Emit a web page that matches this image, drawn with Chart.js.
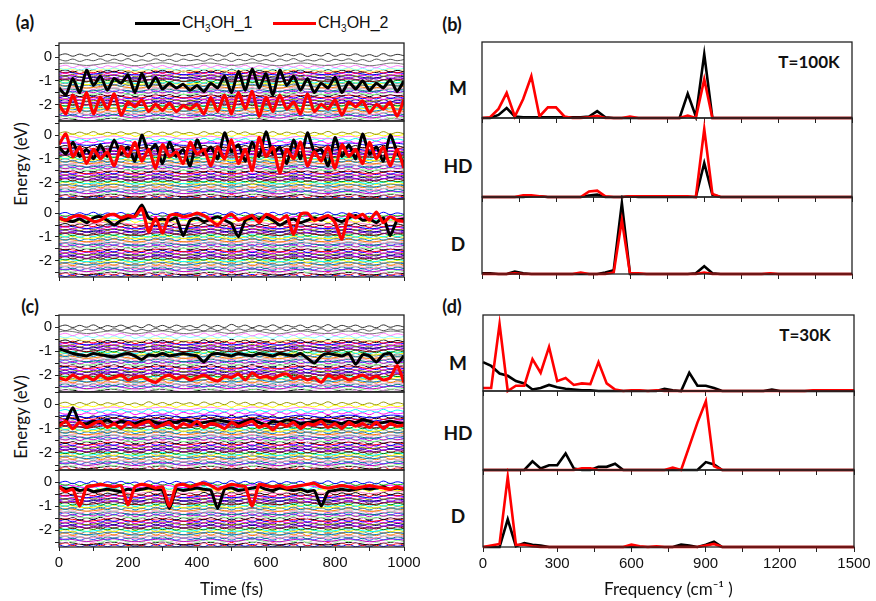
<!DOCTYPE html>
<html>
<head>
<meta charset="utf-8">
<script src="https://cdn.jsdelivr.net/npm/chart.js@4.4.0/dist/chart.umd.min.js"></script>
<style>
body{margin:0;background:#fff;width:876px;height:601px;position:relative;overflow:hidden}
canvas{position:absolute}
.txt{position:absolute;white-space:nowrap;transform:translate(-50%,-50%);color:#111}
.bold{font:bold 18px Lato,"Open Sans",sans-serif}
.leg{position:absolute;white-space:nowrap;font:16px "Liberation Sans",Arial,sans-serif;color:#111}
.leg sub{font-size:10px;vertical-align:-4px}
.swatch{position:absolute;height:3px}
</style>
</head>
<body>

<div class="txt bold" style="left:25px;top:22px">(a)</div>
<div class="txt bold" style="left:452px;top:24px">(b)</div>
<div class="txt bold" style="left:30px;top:306px">(c)</div>
<div class="txt bold" style="left:452px;top:306px">(d)</div>

<div class="swatch" style="left:135px;top:22px;width:45px;background:#000"></div>
<div class="leg" style="left:182px;top:14px">CH<sub>3</sub>OH_1</div>
<div class="swatch" style="left:273px;top:22px;width:43px;background:#ff0000"></div>
<div class="leg" style="left:318px;top:14px">CH<sub>3</sub>OH_2</div>

<div class="txt" style="left:20px;top:164px;font:17px Lato,sans-serif;transform:translate(-50%,-50%) rotate(-90deg)">Energy (eV)</div>
<div class="txt" style="left:20px;top:417px;font:17px Lato,sans-serif;transform:translate(-50%,-50%) rotate(-90deg)">Energy (eV)</div>

<div class="txt bold" style="left:458px;top:87px;font-size:19px">M</div>
<div class="txt bold" style="left:458px;top:165px;font-size:19px">HD</div>
<div class="txt bold" style="left:458px;top:243px;font-size:19px">D</div>
<div class="txt bold" style="left:458px;top:362px;font-size:19px">M</div>
<div class="txt bold" style="left:458px;top:432px;font-size:19px">HD</div>
<div class="txt bold" style="left:458px;top:515px;font-size:19px">D</div>
<div class="txt bold" style="left:809px;top:61px;font-size:17px">T=100K</div>
<div class="txt bold" style="left:805px;top:334px;font-size:17px">T=30K</div>

<script>
// time axis (fs) and FFT frequency grid (cm-1)
const timeFs = [
  0, 20, 40, 60, 80, 100, 120, 140, 160, 180,
  200, 220, 240, 260, 280, 300, 320, 340, 360, 380,
  400, 420, 440, 460, 480, 500, 520, 540, 560, 580,
  600, 620, 640, 660, 680, 700, 720, 740, 760, 780,
  800, 820, 840, 860, 880, 900, 920, 940, 960, 980,
  1000
];
const freqCm = [
  0, 33, 67, 100, 133, 167, 200, 233, 267, 300,
  334, 367, 400, 434, 467, 500, 534, 567, 600, 634,
  667, 701, 734, 767, 801, 834, 867, 901, 934, 967,
  1001, 1034, 1067, 1101, 1134, 1168, 1201, 1234, 1268, 1301,
  1334, 1368, 1401, 1434, 1468, 1501
];

// small thermal wobble of the other Kohn-Sham levels
const wobbleA = [
  0, 0.06, -0.04, 0.05, -0.03, 0.07, -0.05, 0.04, -0.02, 0.06,
  -0.04, 0.03, -0.05, 0.08, -0.03, 0.05, -0.04, 0.06, -0.02, 0.04,
  -0.05, 0.07, -0.03, 0.05, -0.04, 0.09, -0.02, 0.06, -0.05, 0.04,
  -0.03, 0.07, -0.04, 0.05, -0.02, 0.06, -0.05, 0.04, -0.03, 0.08,
  -0.04, 0.05, -0.02, 0.06, -0.04, 0.03, -0.05, 0.07, -0.03, 0.04,
  -0.02
];
const wobbleB = [
  0.04, -0.03, 0.05, -0.05, 0.03, -0.02, 0.06, -0.04, 0.05, -0.03,
  0.07, -0.05, 0.02, -0.04, 0.06, -0.03, 0.04, -0.05, 0.05, -0.02,
  0.03, -0.04, 0.06, -0.03, 0.05, -0.05, 0.04, -0.02, 0.06, -0.04,
  0.03, -0.05, 0.05, -0.03, 0.07, -0.04, 0.02, -0.03, 0.05, -0.05,
  0.04, -0.02, 0.06, -0.04, 0.03, -0.05, 0.05, -0.03, 0.04, -0.02,
  0.03
];
const wobbleC = [
  0.02, 0.05, 0.03, -0.02, -0.05, -0.03, 0.01, 0.05, 0.06, 0.02,
  -0.03, -0.06, -0.04, 0.01, 0.04, 0.06, 0.03, -0.02, -0.05, -0.04,
  0, 0.04, 0.05, 0.02, -0.03, -0.05, -0.03, 0.02, 0.06, 0.04,
  -0.01, -0.05, -0.06, -0.02, 0.03, 0.05, 0.04, -0.01, -0.04, -0.05,
  -0.02, 0.03, 0.05, 0.03, -0.02, -0.06, -0.04, 0.01, 0.05, 0.04,
  0
];
const wobbles = [wobbleA, wobbleB, wobbleC];

// band of occupied levels below the upper ones (eV)
const denseLevels = [
  -0.5, -0.55, -0.6, -0.64, -0.69, -0.74, -0.78, -0.83, -0.88, -0.92,
  -0.97, -1.02, -1.06, -1.11, -1.16, -1.2, -1.25, -1.3, -1.34, -1.39,
  -1.44, -1.48, -1.53, -1.58, -1.62, -1.67, -1.72, -1.76, -1.81, -1.86,
  -1.9, -1.95, -2.0, -2.04, -2.09, -2.14, -2.18, -2.23, -2.28, -2.32,
  -2.37, -2.42, -2.46, -2.51, -2.56, -2.6, -2.65
];

// upper levels per configuration (M, HD, D)
const topLevelsM100 = [0.08, -0.13, -0.3, -0.4];
const topLevelsHD100 = [0.08, 0.0, -0.1, -0.2, -0.3, -0.38];
const topLevelsD100 = [-0.03, -0.1, -0.18, -0.26, -0.34, -0.42];
const topLevelsM30 = [0.02, -0.12, -0.22, -0.32, -0.42, -0.52];
const topLevelsHD30 = [0.02, -0.08, -0.18, -0.28, -0.38];
const topLevelsD30 = [-0.03, -0.1, -0.18, -0.26, -0.34, -0.42];

const topColorsM = ['#333333', '#555555', '#777777', '#ff80ff', '#80ffff', '#ffff80'];
const topColorsHD = ['#999900', '#ffff00', '#ff80ff', '#00ffff', '#ff00ff', '#0000ff'];
const topColorsD = ['#0000ff', '#00c000', '#ff00ff', '#00ffff', '#ffff00', '#ff80c0'];
const palette = ['#000000', '#ff0000', '#0000ff', '#ff00ff', '#808000', '#000080', '#8000ff',
  '#800080', '#800000', '#008000', '#00ffff', '#ffff00', '#808080', '#0080c0', '#ff8000',
  '#c0c0c0', '#ff80c0', '#008080', '#4040ff', '#c000c0', '#80ff80', '#ffc0ff'];

// T = 100 K, methanol levels (eV)
const ch3oh1M100 = [
  -1.3, -1.6, -0.9, -1.5, -0.55, -1.2, -0.8, -1.4, -0.9, -1.1,
  -0.75, -1.5, -0.7, -1.3, -0.85, -1.35, -1.1, -1.3, -1.15, -1.4,
  -1.2, -1.45, -1.1, -1.3, -0.8, -1.5, -0.6, -1.4, -0.5, -1.3,
  -0.7, -1.6, -0.55, -1.2, -0.8, -1.4, -0.9, -1.5, -1.1, -1.3,
  -0.85, -1.5, -1.05, -1.35, -1.0, -1.4, -1.1, -1.3, -0.95, -1.45,
  -1.0
];
const ch3oh2M100 = [
  -2.0, -2.4, -1.6, -2.3, -1.5, -2.4, -1.7, -2.2, -1.55, -2.45,
  -1.9, -2.1, -1.8, -2.3, -2.0, -2.25, -1.95, -2.3, -2.05, -2.2,
  -2.0, -2.4, -1.7, -2.3, -1.6, -2.4, -1.5, -2.2, -1.45, -2.5,
  -1.7, -2.3, -1.6, -2.2, -1.9, -2.4, -1.55, -2.3, -2.0, -2.2,
  -1.8, -2.45, -1.9, -2.1, -1.85, -2.35, -2.0, -2.2, -1.9, -2.5,
  -1.8
];
const ch3oh1HD100 = [
  -0.5, -0.8, -0.3, -0.9, -0.6, -1.0, -0.4, -0.9, -0.2, -0.8,
  -0.5, -1.1, 0.0, -0.7, -0.4, -1.2, -0.3, -0.9, -0.6, -1.3,
  -0.2, -0.8, -0.5, -1.0, 0.1, -0.7, -0.4, -1.1, -0.3, -0.9,
  0.15, -0.8, -0.5, -1.2, -0.2, -1.0, 0.1, -0.7, -0.6, -1.3,
  -0.1, -0.9, -0.4, -1.0, 0.05, -0.8, -0.5, -1.1, 0.0, -0.7,
  -1.2
];
const ch3oh2HD100 = [
  -0.4, 0.05, -0.9, -0.5, -1.2, -0.6, -1.0, -0.7, -1.3, -0.5,
  -0.9, -0.3, -1.1, -0.6, -1.4, -0.4, -0.9, -0.7, -1.2, -0.3,
  -0.8, -0.6, -1.3, -0.5, -1.0, -0.2, -1.2, -0.6, -1.5, -0.1,
  -0.9, -0.5, -1.6, -0.6, -1.0, -0.3, -1.3, -0.7, -1.1, -0.5,
  -1.4, -0.4, -0.9, -0.6, -1.2, -0.3, -1.0, -0.5, -1.3, -0.6,
  -1.4
];
const ch3oh1D100 = [
  -0.2, -0.3, -0.35, -0.25, -0.4, -0.2, -0.15, -0.3, -0.5, -0.3,
  -0.2, -0.1, 0.35, -0.2, -0.3, -0.25, -0.3, -0.2, -0.95, -0.3,
  -0.2, -0.35, -0.25, -0.15, -0.3, -0.45, -1.0, -0.3, -0.2, -0.25,
  -0.15, -0.3, -0.5, -0.35, -0.25, -0.4, -0.3, -0.2, -0.3, -0.15,
  -0.25, -0.35, -0.2, -0.1, -0.3, -0.25, -0.4, -0.2, -0.95, -0.3,
  -0.25
];
const ch3oh2D100 = [
  -0.2, -0.3, -0.15, -0.1, -0.2, -0.35, -0.3, -0.1, -0.05, -0.2,
  -0.1, -0.15, 0.2, -0.8, -0.2, -0.85, -0.1, -0.05, -0.15, -0.1,
  0.0, -0.1, -0.3, -0.5, -0.2, -0.05, -0.3, -0.2, -0.1, -0.4,
  -0.05, -0.15, -0.3, -0.1, -0.9, -0.05, 0.0, -0.3, -0.2, -0.1,
  -0.4, -1.1, -0.05, -0.2, -0.05, -0.3, 0.05, -0.4, -0.15, -0.3,
  -0.35
];

// T = 30 K
const ch3oh1M30 = [
  -0.9, -1.0, -1.1, -1.15, -1.2, -1.1, -1.15, -1.2, -1.25, -1.15,
  -1.1, -1.2, -1.35, -1.15, -1.2, -1.1, -1.2, -1.15, -1.1, -1.15,
  -1.2, -1.45, -1.15, -1.1, -1.15, -1.2, -1.1, -1.15, -1.2, -1.1,
  -1.15, -1.2, -1.1, -1.15, -1.2, -1.1, -1.3, -1.5, -1.2, -1.1,
  -1.15, -1.2, -1.1, -1.55, -1.15, -1.2, -1.45, -1.15, -1.1, -1.5,
  -1.2
];
const ch3oh2M30 = [
  -2.1, -2.2, -2.0, -2.15, -2.05, -2.2, -2.0, -2.15, -2.1, -2.0,
  -2.2, -2.1, -2.05, -2.2, -2.3, -2.1, -2.0, -2.15, -2.05, -2.2,
  -2.1, -2.0, -2.15, -2.25, -2.05, -2.1, -1.95, -2.2, -1.9, -2.1,
  -2.05, -2.15, -2.0, -1.95, -2.15, -2.05, -2.2, -2.1, -2.3, -2.0,
  -2.15, -2.05, -2.2, -2.1, -2.0, -2.15, -2.05, -2.2, -2.1, -1.6,
  -2.3
];
const ch3oh1HD30 = [
  -0.8, -0.7, -0.15, -0.75, -0.8, -0.7, -0.75, -0.65, -0.8, -0.7,
  -0.75, -0.8, -0.7, -0.65, -0.75, -0.8, -0.7, -0.75, -0.65, -0.7,
  -0.8, -0.75, -0.7, -0.65, -0.7, -0.75, -0.8, -0.7, -0.65, -0.75,
  -0.85, -0.7, -0.75, -0.65, -0.7, -0.8, -0.75, -0.7, -0.65, -0.7,
  -0.75, -0.8, -0.7, -0.75, -0.65, -0.7, -0.8, -0.75, -0.7, -0.75,
  -0.8
];
const ch3oh2HD30 = [
  -0.9, -0.7, -1.0, -0.75, -0.95, -0.8, -0.7, -0.95, -0.8, -1.0,
  -0.75, -0.9, -0.8, -0.7, -0.95, -0.85, -0.75, -1.0, -0.8, -0.9,
  -0.7, -0.95, -0.8, -0.85, -1.0, -0.75, -0.9, -0.8, -0.7, -0.95,
  -0.85, -1.05, -0.8, -0.9, -0.75, -1.0, -0.8, -0.85, -0.7, -0.95,
  -0.8, -1.0, -0.75, -0.9, -0.8, -0.95, -0.75, -1.0, -0.8, -0.9,
  -0.85
];
const ch3oh1D30 = [
  -0.2, -0.3, -0.25, -0.35, -0.3, -0.4, -0.35, -0.3, -0.35, -0.4,
  -0.3, -0.35, -0.3, -0.25, -0.3, -0.35, -1.1, -0.3, -0.35, -0.3,
  -0.25, -0.3, -0.35, -1.1, -0.3, -0.25, -0.35, -0.3, -0.25, -0.2,
  -0.3, -0.35, -0.25, -0.3, -0.35, -0.3, -0.4, -0.35, -1.0, -0.4,
  -0.35, -0.3, -0.35, -0.3, -0.25, -0.3, -0.25, -0.2, -0.3, -0.25,
  -0.3
];
const ch3oh2D30 = [
  -0.2, -0.4, -0.3, -1.0, -0.2, -0.15, -0.1, -0.15, -0.2, -0.15,
  -0.95, -0.2, -0.1, -0.15, -0.25, -0.2, -1.0, -0.15, -0.1, -0.2,
  -0.1, -0.05, -0.15, -0.3, -0.2, -0.1, -0.15, -0.2, -1.0, -0.1,
  -0.15, -0.2, -0.15, -0.25, -0.2, -0.15, -0.1, -0.05, -0.2, -0.25,
  -0.2, -0.15, -0.2, -0.25, -0.2, -0.15, -0.2, -0.25, -0.3, -0.2,
  -0.3
];

// spectra, normalised per sub-panel
const specM100_1 = [
  0, 0, 0.04, 0.13, 0.02, 0.01, 0.01, 0.01, 0.01, 0.01,
  0.01, 0.01, 0.01, 0.02, 0.09, 0.01, 0, 0, 0, 0,
  0, 0, 0, 0, 0, 0.32, 0.02, 0.84, 0, 0,
  0, 0, 0, 0, 0, 0, 0, 0, 0, 0,
  0, 0, 0, 0, 0, 0
];
const specM100_2 = [
  0, 0.01, 0.12, 0.33, 0.02, 0.25, 0.55, 0.02, 0.14, 0.14,
  0.02, 0, 0, 0.01, 0.03, 0, 0, 0, 0.02, 0,
  0, 0, 0, 0, 0, 0.03, 0, 0.51, 0, 0,
  0, 0, 0, 0, 0, 0, 0, 0, 0, 0,
  0, 0, 0, 0, 0, 0
];
const specHD100_1 = [
  0, 0, 0, 0, 0, 0, 0.01, 0.01, 0, 0,
  0, 0, 0, 0.02, 0.03, 0, 0, 0, 0.01, 0,
  0, 0, 0, 0, 0, 0, 0, 0.43, 0.03, 0,
  0, 0, 0, 0, 0, 0, 0, 0, 0, 0,
  0, 0, 0, 0, 0, 0
];
const specHD100_2 = [
  0, 0, 0, 0, 0, 0.02, 0.02, 0.01, 0, 0,
  0, 0, 0, 0.07, 0.08, 0.01, 0, 0, 0.01, 0.01,
  0.01, 0.01, 0.01, 0.01, 0.01, 0.01, 0, 0.86, 0.04, 0,
  0, 0, 0, 0, 0, 0, 0, 0, 0, 0,
  0, 0, 0, 0, 0, 0
];
const specD100_1 = [
  0.01, 0.01, 0, 0, 0.03, 0.01, 0, 0, 0, 0,
  0, 0, 0, 0, 0, 0.02, 0.05, 0.92, 0, 0,
  0, 0, 0, 0, 0, 0, 0.01, 0.1, 0.01, 0,
  0, 0, 0, 0, 0, 0, 0, 0, 0, 0,
  0, 0, 0, 0, 0, 0
];
const specD100_2 = [
  0, 0, 0, 0, 0.01, 0, 0, 0, 0, 0,
  0, 0, 0.02, 0, 0, 0, 0.02, 0.7, 0.01, 0.01,
  0, 0, 0, 0, 0, 0, 0, 0.02, 0, 0,
  0, 0, 0, 0, 0, 0.01, 0, 0, 0, 0,
  0, 0, 0, 0, 0, 0
];
const specM30_1 = [
  0.38, 0.33, 0.23, 0.2, 0.13, 0.1, 0.02, 0.04, 0.08, 0.05,
  0.03, 0.02, 0.01, 0.01, 0, 0, 0, 0, 0, 0,
  0, 0, 0.03, 0.01, 0, 0.24, 0.07, 0.07, 0.04, 0,
  0, 0, 0, 0, 0, 0.02, 0, 0, 0, 0,
  0, 0, 0, 0, 0, 0
];
const specM30_2 = [
  0.04, 0.04, 0.88, 0, 0.07, 0.07, 0.42, 0.24, 0.58, 0.13,
  0.17, 0.08, 0.1, 0.09, 0.38, 0.1, 0.02, 0, 0.01, 0.01,
  0, 0.01, 0, 0, 0, 0, 0, 0, 0, 0,
  0, 0, 0, 0, 0, 0, 0, 0, 0, 0,
  0.01, 0.01, 0.01, 0.01, 0.01, 0.01
];
const specHD30_1 = [
  0, 0, 0, 0, 0, 0, 0.11, 0.02, 0.06, 0.06,
  0.21, 0.02, 0, 0, 0.04, 0.04, 0.08, 0, 0, 0,
  0, 0, 0, 0, 0, 0, 0, 0.1, 0.07, 0,
  0, 0, 0, 0, 0, 0, 0, 0, 0, 0,
  0, 0, 0, 0, 0, 0
];
const specHD30_2 = [
  0, 0, 0, 0, 0, 0, 0, 0, 0, 0,
  0, 0, 0.02, 0.02, 0, 0, 0, 0, 0, 0,
  0, 0, 0, 0.03, 0, 0.3, 0.6, 0.87, 0.05, 0,
  0, 0, 0, 0, 0, 0, 0, 0, 0, 0,
  0, 0, 0, 0, 0, 0
];
const specD30_1 = [
  0, 0, 0, 0.36, 0.01, 0.05, 0.03, 0.02, 0, 0,
  0, 0, 0, 0, 0, 0, 0, 0, 0, 0,
  0, 0, 0, 0, 0.03, 0.02, 0, 0.03, 0.07, 0,
  0, 0, 0, 0, 0, 0, 0, 0, 0, 0,
  0, 0, 0, 0, 0, 0
];
const specD30_2 = [
  0, 0.02, 0.04, 0.91, 0.03, 0.03, 0.01, 0, 0, 0,
  0, 0, 0, 0, 0, 0, 0, 0, 0.03, 0.01,
  0, 0.01, 0, 0, 0, 0, 0, 0.02, 0.04, 0,
  0, 0, 0, 0, 0, 0, 0, 0, 0, 0,
  0, 0, 0, 0, 0, 0
];

const energyTicks = [-2.5, -2, -1.5, -1, -0.5, 0, 0.5];
const timeTicks = [0, 100, 200, 300, 400, 500, 600, 700, 800, 900, 1000];
const freqTicks = [0, 150, 300, 450, 600, 750, 900, 1050, 1200, 1350, 1500];

Chart.defaults.animation = false;
Chart.defaults.elements.point.radius = 0;
Chart.defaults.plugins.legend.display = false;
Chart.defaults.plugins.tooltip.enabled = false;

const tickFont = { family: 'Liberation Sans', size: 15 };
const titleFont = { family: 'Lato', size: 17 };
const axisColor = '#222';

// frame around each sub-panel
const framePlugin = {
  id: 'frame',
  afterDraw(chart) {
    const { ctx, chartArea: a } = chart;
    ctx.save();
    ctx.strokeStyle = axisColor;
    ctx.lineWidth = 1.3;
    ctx.strokeRect(a.left, a.top, a.right - a.left, a.bottom - a.top);
    ctx.restore();
  }
};

function addCanvas(left, top, w, h) {
  const c = document.createElement('canvas');
  c.width = w; c.height = h;
  c.style.left = left + 'px';
  c.style.top = top + 'px';
  c.style.width = w + 'px';
  c.style.height = h + 'px';
  document.body.appendChild(c);
  return c;
}

function xy(xs, ys) {
  return xs.map((x, k) => ({ x: x, y: ys[k] }));
}

// keep the plot area fixed: no extra room for edge labels
function noEdgePadding(s) {
  s.paddingTop = 0; s.paddingBottom = 0;
  s.paddingLeft = 0; s.paddingRight = 0;
}

function energyPanel(top, bottom, yMax, topLevels, topColors, black, red, xMode) {
  const axisH = xMode === 'full' ? 53 : (xMode === 'ticks' ? 6 : 0);
  const padB = xMode === 'none' ? 2 : 0;
  const cv = addCanvas(0, top - 2, 432, 2 + bottom - top + axisH + padB);
  const lowest = topLevels[topLevels.length - 1];
  const levels = topLevels.concat(denseLevels.filter(v => v < lowest - 0.04));

  const datasets = [
    { data: xy(timeFs, red), borderColor: '#ff0000', borderWidth: 3.2, tension: 0.2 },
    { data: xy(timeFs, black), borderColor: '#000000', borderWidth: 3, tension: 0.2 }
  ];
  levels.forEach((lv, i) => {
    const col = i < topColors.length ? topColors[i] : palette[(i - topColors.length) % palette.length];
    const w = wobbles[i % wobbles.length];
    datasets.push({
      data: xy(timeFs, w.map(d => lv + d)),
      borderColor: col, borderWidth: 1, tension: 0.4
    });
  });

  new Chart(cv, {
    type: 'line',
    data: { datasets },
    options: {
      responsive: false,
      devicePixelRatio: 1,
      events: [],
      layout: { padding: { left: 0, right: 28, top: 2, bottom: padB } },
      scales: {
        x: {
          type: 'linear', min: 0, max: 1000,
          display: xMode !== 'none',
          afterBuildTicks: s => { s.ticks = timeTicks.map(v => ({ value: v })); },
          afterFit: s => { s.height = axisH; noEdgePadding(s); },
          ticks: {
            autoSkip: false, maxRotation: 0, padding: 3, font: tickFont, color: '#111',
            callback: v => (xMode === 'full' && v % 200 === 0) ? String(v) : ''
          },
          grid: { drawOnChartArea: false, tickLength: 4, color: axisColor },
          border: { display: false },
          title: { display: xMode === 'full', text: 'Time (fs)', font: titleFont, color: '#111', padding: { top: 0, bottom: 0 } }
        },
        y: {
          min: -2.7, max: yMax,
          afterBuildTicks: s => { s.ticks = energyTicks.map(v => ({ value: v })); },
          afterFit: s => { s.width = 59; noEdgePadding(s); },
          ticks: {
            autoSkip: false, padding: 3, font: tickFont, color: '#111',
            callback: v => Number.isInteger(v) ? String(v) : ''
          },
          grid: { drawOnChartArea: false, tickLength: 4, color: axisColor },
          border: { display: false }
        }
      }
    },
    plugins: [framePlugin]
  });
}

function spectrumPanel(left, right, top, bottom, black, red, xMode) {
  const cvLeft = 470, cvW = 406;
  const axisH = xMode === 'full' ? 53 : 7;
  const cv = addCanvas(cvLeft, top - 2, cvW, 2 + bottom - top + axisH);
  new Chart(cv, {
    type: 'line',
    data: {
      datasets: [
        { data: xy(freqCm, red), borderColor: '#ff0000', borderWidth: 2.6, tension: 0, clip: 3 },
        { data: xy(freqCm, black), borderColor: '#000000', borderWidth: 2.6, tension: 0, clip: 3 }
      ]
    },
    options: {
      responsive: false,
      devicePixelRatio: 1,
      events: [],
      layout: { padding: { left: left - cvLeft, right: cvLeft + cvW - right, top: 2, bottom: 0 } },
      scales: {
        x: {
          type: 'linear', min: 0, max: 1500,
          afterBuildTicks: s => { s.ticks = freqTicks.map(v => ({ value: v })); },
          afterFit: s => { s.height = axisH; noEdgePadding(s); },
          ticks: {
            autoSkip: false, maxRotation: 0, padding: 3, font: tickFont, color: '#111',
            callback: v => (xMode === 'full' && v % 300 === 0) ? String(v) : ''
          },
          grid: { drawOnChartArea: false, tickLength: 5, color: axisColor },
          border: { display: false },
          title: { display: xMode === 'full', text: 'Frequency (cm\u207B\u00B9 )', font: titleFont, color: '#111', padding: { top: 0, bottom: 0 } }
        },
        y: { display: false, min: 0, max: 1 }
      }
    },
    plugins: [framePlugin]
  });
}

// (a) T = 100 K energy levels
energyPanel(43, 121, 0.6, topLevelsM100, topColorsM, ch3oh1M100, ch3oh2M100, 'none');
energyPanel(121, 199, 0.6, topLevelsHD100, topColorsHD, ch3oh1HD100, ch3oh2HD100, 'none');
energyPanel(199, 277, 0.6, topLevelsD100, topColorsD, ch3oh1D100, ch3oh2D100, 'ticks');
// (c) T = 30 K energy levels
energyPanel(315, 392, 0.5, topLevelsM30, topColorsM, ch3oh1M30, ch3oh2M30, 'none');
energyPanel(392, 470, 0.5, topLevelsHD30, topColorsHD, ch3oh1HD30, ch3oh2HD30, 'none');
energyPanel(470, 547, 0.5, topLevelsD30, topColorsD, ch3oh1D30, ch3oh2D30, 'full');

// (b) T = 100 K spectra
spectrumPanel(482, 852, 42, 118, specM100_1, specM100_2, 'ticks');
spectrumPanel(482, 852, 118, 197, specHD100_1, specHD100_2, 'ticks');
spectrumPanel(482, 852, 197, 274, specD100_1, specD100_2, 'ticks');
// (d) T = 30 K spectra
spectrumPanel(483, 854, 315, 391, specM30_1, specM30_2, 'ticks');
spectrumPanel(483, 854, 391, 470, specHD30_1, specHD30_2, 'ticks');
spectrumPanel(483, 854, 470, 547, specD30_1, specD30_2, 'full');
</script>
</body>
</html>
